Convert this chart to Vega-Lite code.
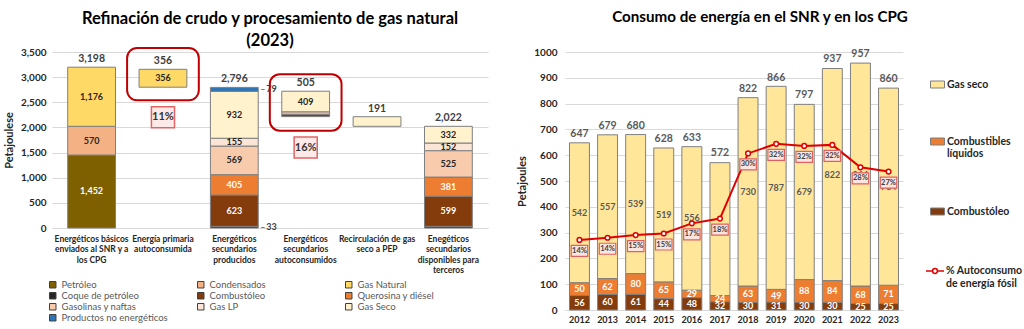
{
 "$schema": "https://vega.github.io/schema/vega-lite/v6.json",
 "background": "white",
 "padding": {"left": 3, "right": 4, "top": 9, "bottom": 2},
 "spacing": 28,
 "resolve": {"scale": {"color": "independent", "stroke": "independent"}, "legend": {"color": "independent", "stroke": "independent"}},
 "config": {
  "font": "Lato",
  "view": {"stroke": null},
  "axis": {"domain": false, "ticks": false, "gridColor": "#D9D9D9", "labelFontWeight": "bold", "labelColor": "#262626", "titleColor": "#262626", "titleFontWeight": "bold"},
  "title": {"color": "#000000", "fontWeight": "bold"}
 },
 "datasets": {
  "refi": [
   {"cat": "Energéticos básicos|enviados al SNR y a|los CPG", "prod": "Petróleo", "value": 1452, "ord": 0},
   {"cat": "Energéticos básicos|enviados al SNR y a|los CPG", "prod": "Condensados", "value": 570, "ord": 1},
   {"cat": "Energéticos básicos|enviados al SNR y a|los CPG", "prod": "Gas Natural", "value": 1176, "ord": 2},
   {"cat": "Energía primaria|autoconsumida", "prod": "base", "value": 2800, "ord": -1},
   {"cat": "Energía primaria|autoconsumida", "prod": "Gas Natural", "value": 356, "ord": 2},
   {"cat": "Energéticos|secundarios|producidos", "prod": "Coque de petróleo", "value": 33, "ord": 3},
   {"cat": "Energéticos|secundarios|producidos", "prod": "Combustóleo", "value": 623, "ord": 4},
   {"cat": "Energéticos|secundarios|producidos", "prod": "Querosina y diésel", "value": 405, "ord": 5},
   {"cat": "Energéticos|secundarios|producidos", "prod": "Gasolinas y naftas", "value": 569, "ord": 6},
   {"cat": "Energéticos|secundarios|producidos", "prod": "Gas LP", "value": 155, "ord": 7},
   {"cat": "Energéticos|secundarios|producidos", "prod": "Gas Seco", "value": 932, "ord": 8},
   {"cat": "Energéticos|secundarios|producidos", "prod": "Productos no energéticos", "value": 79, "ord": 9},
   {"cat": "Energéticos|secundarios|autoconsumidos", "prod": "base", "value": 2215, "ord": -1},
   {"cat": "Energéticos|secundarios|autoconsumidos", "prod": "Combustóleo", "value": 48, "ord": 4},
   {"cat": "Energéticos|secundarios|autoconsumidos", "prod": "Gasolinas y naftas", "value": 48, "ord": 6},
   {"cat": "Energéticos|secundarios|autoconsumidos", "prod": "Gas Seco", "value": 409, "ord": 8},
   {"cat": "Recirculación de gas|seco a PEP", "prod": "base", "value": 2022, "ord": -1},
   {"cat": "Recirculación de gas|seco a PEP", "prod": "Gas Seco", "value": 191, "ord": 8},
   {"cat": "Enegéticos|secundarios|disponibles para|terceros", "prod": "Coque de petróleo", "value": 33, "ord": 3},
   {"cat": "Enegéticos|secundarios|disponibles para|terceros", "prod": "Combustóleo", "value": 599, "ord": 4},
   {"cat": "Enegéticos|secundarios|disponibles para|terceros", "prod": "Querosina y diésel", "value": 381, "ord": 5},
   {"cat": "Enegéticos|secundarios|disponibles para|terceros", "prod": "Gasolinas y naftas", "value": 525, "ord": 6},
   {"cat": "Enegéticos|secundarios|disponibles para|terceros", "prod": "Gas LP", "value": 152, "ord": 7},
   {"cat": "Enegéticos|secundarios|disponibles para|terceros", "prod": "Gas Seco", "value": 332, "ord": 8}
  ],
  "notas": [
   {"cat": "Energía primaria|autoconsumida", "lo": 2540, "hi": 3580, "pct": 0.11, "at": 2200},
   {"cat": "Energéticos|secundarios|autoconsumidos", "lo": 1935, "hi": 3060, "pct": 0.16, "at": 1600}
  ],
  "consumo": [
   {"year": "2012", "tipo": "Combustóleo", "value": 56, "ord": 0}, {"year": "2012", "tipo": "Combustibles líquidos", "value": 50, "ord": 1}, {"year": "2012", "tipo": "Gas seco", "value": 542, "ord": 2},
   {"year": "2013", "tipo": "Combustóleo", "value": 60, "ord": 0}, {"year": "2013", "tipo": "Combustibles líquidos", "value": 62, "ord": 1}, {"year": "2013", "tipo": "Gas seco", "value": 557, "ord": 2},
   {"year": "2014", "tipo": "Combustóleo", "value": 61, "ord": 0}, {"year": "2014", "tipo": "Combustibles líquidos", "value": 80, "ord": 1}, {"year": "2014", "tipo": "Gas seco", "value": 539, "ord": 2},
   {"year": "2015", "tipo": "Combustóleo", "value": 44, "ord": 0}, {"year": "2015", "tipo": "Combustibles líquidos", "value": 65, "ord": 1}, {"year": "2015", "tipo": "Gas seco", "value": 519, "ord": 2},
   {"year": "2016", "tipo": "Combustóleo", "value": 48, "ord": 0}, {"year": "2016", "tipo": "Combustibles líquidos", "value": 29, "ord": 1}, {"year": "2016", "tipo": "Gas seco", "value": 556, "ord": 2},
   {"year": "2017", "tipo": "Combustóleo", "value": 32, "ord": 0}, {"year": "2017", "tipo": "Combustibles líquidos", "value": 24, "ord": 1}, {"year": "2017", "tipo": "Gas seco", "value": 515, "ord": 2},
   {"year": "2018", "tipo": "Combustóleo", "value": 30, "ord": 0}, {"year": "2018", "tipo": "Combustibles líquidos", "value": 63, "ord": 1}, {"year": "2018", "tipo": "Gas seco", "value": 730, "ord": 2},
   {"year": "2019", "tipo": "Combustóleo", "value": 31, "ord": 0}, {"year": "2019", "tipo": "Combustibles líquidos", "value": 49, "ord": 1}, {"year": "2019", "tipo": "Gas seco", "value": 787, "ord": 2},
   {"year": "2020", "tipo": "Combustóleo", "value": 30, "ord": 0}, {"year": "2020", "tipo": "Combustibles líquidos", "value": 88, "ord": 1}, {"year": "2020", "tipo": "Gas seco", "value": 679, "ord": 2},
   {"year": "2021", "tipo": "Combustóleo", "value": 30, "ord": 0}, {"year": "2021", "tipo": "Combustibles líquidos", "value": 84, "ord": 1}, {"year": "2021", "tipo": "Gas seco", "value": 822, "ord": 2},
   {"year": "2022", "tipo": "Combustóleo", "value": 25, "ord": 0}, {"year": "2022", "tipo": "Combustibles líquidos", "value": 68, "ord": 1}, {"year": "2022", "tipo": "Gas seco", "value": 864, "ord": 2},
   {"year": "2023", "tipo": "Combustóleo", "value": 25, "ord": 0}, {"year": "2023", "tipo": "Combustibles líquidos", "value": 71, "ord": 1}, {"year": "2023", "tipo": "Gas seco", "value": 764, "ord": 2}
  ],
  "anual": [
   {"year": "2012", "total": 647, "pct": 0.140},
   {"year": "2013", "total": 679, "pct": 0.144},
   {"year": "2014", "total": 680, "pct": 0.149},
   {"year": "2015", "total": 628, "pct": 0.152},
   {"year": "2016", "total": 633, "pct": 0.171},
   {"year": "2017", "total": 572, "pct": 0.180},
   {"year": "2018", "total": 822, "pct": 0.302},
   {"year": "2019", "total": 866, "pct": 0.320},
   {"year": "2020", "total": 797, "pct": 0.316},
   {"year": "2021", "total": 937, "pct": 0.318},
   {"year": "2022", "total": 957, "pct": 0.276},
   {"year": "2023", "total": 860, "pct": 0.268}
  ]
 },
 "hconcat": [
  {
   "width": 436,
   "height": 176,
   "title": {"text": ["Refinación de crudo y procesamiento de gas natural", "(2023)"], "fontSize": 16.5, "lineHeight": 22, "offset": -3},
   "encoding": {
    "x": {"field": "cat", "type": "nominal",
     "sort": ["Energéticos básicos|enviados al SNR y a|los CPG", "Energía primaria|autoconsumida", "Energéticos|secundarios|producidos", "Energéticos|secundarios|autoconsumidos", "Recirculación de gas|seco a PEP", "Enegéticos|secundarios|disponibles para|terceros"],
     "scale": {"paddingInner": 0.33, "paddingOuter": 0.22},
     "axis": {"title": null, "labelAngle": 0, "labelExpr": "split(datum.label, '|')", "labelFontSize": 8.5, "labelLineHeight": 10.5, "labelPadding": 6, "labelLimit": 200, "labelBaseline": "top", "domain": true, "domainColor": "#D9D9D9"}}
   },
   "layer": [
    {
     "data": {"name": "refi"},
     "transform": [
      {"stack": "value", "groupby": ["cat"], "sort": [{"field": "ord", "order": "ascending"}], "as": ["y0", "y1"]},
      {"filter": "datum.prod != 'base'"},
      {"calculate": "(datum.y0 + datum.y1) / 2", "as": "mid"}
     ],
     "layer": [
      {
       "mark": {"type": "bar", "stroke": "#7F7F7F", "strokeWidth": 1},
       "encoding": {
        "y": {"field": "y0", "type": "quantitative", "scale": {"domain": [0, 3500], "nice": false},
         "axis": {"title": "Petajoulese", "titleFontSize": 11, "format": ",.0f", "values": [0, 500, 1000, 1500, 2000, 2500, 3000, 3500], "labelFontSize": 10, "labelPadding": 6, "titlePadding": 6, "grid": true}},
        "y2": {"field": "y1"},
        "color": {"field": "prod", "type": "nominal",
         "scale": {"domain": ["Petróleo", "Condensados", "Gas Natural", "Coque de petróleo", "Combustóleo", "Querosina y diésel", "Gasolinas y naftas", "Gas LP", "Gas Seco", "Productos no energéticos"],
          "range": ["#7F6000", "#F4B183", "#FFD966", "#262626", "#843C0C", "#ED7D31", "#F8CBAD", "#FBE5D6", "#FFF2CC", "#2E75B6"]},
         "legend": {"title": null, "orient": "none", "direction": "horizontal", "legendX": -4, "legendY": 228, "columns": 3, "symbolType": "square", "symbolSize": 42, "labelFontSize": 9.5, "labelColor": "#595959", "rowPadding": 0, "columnPadding": 27, "gridAlign": "all", "symbolStrokeWidth": 1, "symbolStrokeColor": "#404040"}}
       }
      },
      {
       "transform": [{"filter": "datum.value >= 100 && datum.cat != 'Recirculación de gas|seco a PEP'"}],
       "mark": {"type": "text", "fontSize": 9, "fontWeight": "bold", "baseline": "middle"},
       "encoding": {
        "y": {"field": "mid", "type": "quantitative", "axis": {"title": "Petajoulese", "titleFontSize": 11, "format": ",.0f", "values": [0, 500, 1000, 1500, 2000, 2500, 3000, 3500], "labelFontSize": 10, "labelPadding": 6, "titlePadding": 6, "grid": true}},
        "text": {"field": "value", "type": "quantitative", "format": ","},
        "color": {"condition": {"test": "datum.prod == 'Petróleo' || datum.prod == 'Combustóleo' || datum.prod == 'Querosina y diésel'", "value": "#FFFFFF"}, "value": "#262626"}
       }
      },
      {
       "transform": [{"filter": "datum.value < 100 && datum.cat == 'Energéticos|secundarios|producidos'"}],
       "mark": {"type": "text", "fontSize": 9, "fontWeight": "bold", "baseline": "middle", "align": "left", "dx": 32, "color": "#404040"},
       "encoding": {
        "y": {"field": "mid", "type": "quantitative", "axis": {"title": "Petajoulese", "titleFontSize": 11, "format": ",.0f", "values": [0, 500, 1000, 1500, 2000, 2500, 3000, 3500], "labelFontSize": 10, "labelPadding": 6, "titlePadding": 6, "grid": true}},
        "text": {"field": "value", "type": "quantitative"}
       }
      },
      {
       "transform": [{"filter": "datum.value < 100 && datum.cat == 'Energéticos|secundarios|producidos'"}],
       "mark": {"type": "text", "fontSize": 9, "baseline": "middle", "align": "left", "dx": 26, "color": "#404040"},
       "encoding": {
        "y": {"field": "mid", "type": "quantitative", "axis": {"title": "Petajoulese", "titleFontSize": 11, "format": ",.0f", "values": [0, 500, 1000, 1500, 2000, 2500, 3000, 3500], "labelFontSize": 10, "labelPadding": 6, "titlePadding": 6, "grid": true}},
        "text": {"value": "–"}
       }
      },
      {
       "transform": [{"aggregate": [{"op": "sum", "field": "value", "as": "total"}, {"op": "max", "field": "y1", "as": "top"}], "groupby": ["cat"]}],
       "mark": {"type": "text", "fontSize": 10.5, "fontWeight": "bold", "dy": -8, "color": "#404040"},
       "encoding": {
        "y": {"field": "top", "type": "quantitative", "axis": {"title": "Petajoulese", "titleFontSize": 11, "format": ",.0f", "values": [0, 500, 1000, 1500, 2000, 2500, 3000, 3500], "labelFontSize": 10, "labelPadding": 6, "titlePadding": 6, "grid": true}},
        "text": {"field": "total", "type": "quantitative", "format": ","}
       }
      }
     ]
    },
    {
     "data": {"name": "notas"},
     "layer": [
      {
       "mark": {"type": "bar", "width": {"band": 1.5}, "fill": "transparent", "stroke": "#C00000", "strokeWidth": 2, "cornerRadius": 10},
       "encoding": {"y": {"field": "lo", "type": "quantitative", "axis": {"title": "Petajoulese", "titleFontSize": 11, "format": ",.0f", "values": [0, 500, 1000, 1500, 2000, 2500, 3000, 3500], "labelFontSize": 10, "labelPadding": 6, "titlePadding": 6, "grid": true}}, "y2": {"field": "hi"}}
      },
      {
       "mark": {"type": "point", "shape": "M-1.1,-1H1.1V1H-1.1Z", "size": 441, "filled": true, "fill": "#FDE9E7", "stroke": "#E06666", "strokeWidth": 1.5, "opacity": 1},
       "encoding": {"y": {"field": "at", "type": "quantitative", "axis": {"title": "Petajoulese", "titleFontSize": 11, "format": ",.0f", "values": [0, 500, 1000, 1500, 2000, 2500, 3000, 3500], "labelFontSize": 10, "labelPadding": 6, "titlePadding": 6, "grid": true}}}
      },
      {
       "mark": {"type": "text", "fontSize": 11, "fontWeight": "bold", "color": "#333333"},
       "encoding": {"y": {"field": "at", "type": "quantitative", "axis": {"title": "Petajoulese", "titleFontSize": 11, "format": ",.0f", "values": [0, 500, 1000, 1500, 2000, 2500, 3000, 3500], "labelFontSize": 10, "labelPadding": 6, "titlePadding": 6, "grid": true}}, "text": {"field": "pct", "type": "quantitative", "format": ".0%"}}
      }
     ]
    }
   ]
  },
  {
   "width": 338,
   "height": 258,
   "title": {"text": "Consumo de energía en el SNR y en los CPG", "fontSize": 15.2, "offset": 22, "dx": 26},
   "encoding": {
    "x": {"field": "year", "type": "ordinal", "scale": {"paddingInner": 0.29, "paddingOuter": 0.16},
     "axis": {"title": null, "labelAngle": 0, "labelFontSize": 9, "labelPadding": 5, "domain": true, "domainColor": "#D9D9D9"}}
   },
   "layer": [
    {
     "layer": [
      {
       "data": {"name": "consumo"},
       "transform": [
        {"stack": "value", "groupby": ["year"], "sort": [{"field": "ord", "order": "ascending"}], "as": ["y0", "y1"]},
        {"calculate": "(datum.y0 + datum.y1) / 2", "as": "mid"}
       ],
       "layer": [
        {
         "mark": {"type": "bar", "stroke": "#7F7F7F", "strokeWidth": 1},
         "encoding": {
          "y": {"field": "y0", "type": "quantitative", "scale": {"domain": [0, 1000], "nice": false},
           "axis": {"title": "Petajoules", "titleFontSize": 11, "format": "d", "values": [0, 100, 200, 300, 400, 500, 600, 700, 800, 900, 1000], "labelFontSize": 10, "labelPadding": 8, "titlePadding": 6, "grid": true}},
          "y2": {"field": "y1"},
          "color": {"field": "tipo", "type": "nominal",
           "scale": {"domain": ["Gas seco", "Combustibles líquidos", "Combustóleo"], "range": ["#FFE699", "#ED7D31", "#843C0C"]},
           "legend": {"title": null, "orient": "none", "legendX": 367, "legendY": 27, "symbolType": "M-1.4,-0.7H1.4V0.7H-1.4Z", "symbolSize": 100, "labelFontSize": 10.5, "labelFontWeight": "bold", "labelColor": "#262626", "rowPadding": 46, "symbolStrokeColor": "#7F7F7F", "symbolStrokeWidth": 1, "labelExpr": "datum.label == 'Combustibles líquidos' ? ['Combustibles', 'líquidos'] : datum.label"}}
         }
        },
        {
         "mark": {"type": "text", "fontSize": 9, "fontWeight": "bold", "baseline": "middle"},
         "encoding": {
          "y": {"field": "mid", "type": "quantitative", "axis": {"title": "Petajoules", "titleFontSize": 11, "format": "d", "values": [0, 100, 200, 300, 400, 500, 600, 700, 800, 900, 1000], "labelFontSize": 10, "labelPadding": 8, "titlePadding": 6, "grid": true}},
          "text": {"field": "value", "type": "quantitative"},
          "color": {"condition": {"test": "datum.tipo != 'Gas seco'", "value": "#FFFFFF"}, "value": "#595959"}
         }
        }
       ]
      },
      {
       "data": {"name": "anual"},
       "mark": {"type": "text", "fontSize": 10.5, "fontWeight": "bold", "dy": -9, "color": "#595959"},
       "encoding": {
        "y": {"field": "total", "type": "quantitative", "axis": {"title": "Petajoules", "titleFontSize": 11, "format": "d", "values": [0, 100, 200, 300, 400, 500, 600, 700, 800, 900, 1000], "labelFontSize": 10, "labelPadding": 8, "titlePadding": 6, "grid": true}},
        "text": {"field": "total", "type": "quantitative"}
       }
      }
     ]
    },
    {
     "data": {"name": "anual"},
     "layer": [
      {
       "mark": {"type": "line", "strokeWidth": 2},
       "encoding": {
        "y": {"field": "pct", "type": "quantitative", "scale": {"domain": [0.0087, 0.492], "nice": false, "zero": false}, "axis": null},
        "stroke": {"datum": "% Autoconsumo de energía fósil", "type": "nominal", "scale": {"range": ["#E00000"]},
         "legend": {"title": null, "orient": "none", "legendX": 363, "legendY": 212, "symbolType": "M-1.5,0H-0.4M0.4,0H1.5M0.4,0A0.4,0.4,0,1,1,-0.4,0A0.4,0.4,0,1,1,0.4,0", "symbolSize": 144, "symbolFillColor": "#FFFFFF", "symbolStrokeWidth": 1.5, "labelFontSize": 10.5, "labelFontWeight": "bold", "labelColor": "#262626", "labelExpr": "['% Autoconsumo', 'de energía fósil']"}}
       }
      },
      {
       "mark": {"type": "point", "filled": true, "fill": "#FFFFFF", "stroke": "#E00000", "strokeWidth": 1.5, "size": 22, "opacity": 1},
       "encoding": {"y": {"field": "pct", "type": "quantitative", "axis": null}}
      },
      {
       "mark": {"type": "point", "shape": "M-1.5,-1H1.5V1H-1.5Z", "size": 121, "filled": true, "fill": "#FCE4E0", "stroke": "#E06060", "strokeWidth": 1.2, "yOffset": 11, "opacity": 1},
       "encoding": {"y": {"field": "pct", "type": "quantitative", "axis": null}}
      },
      {
       "mark": {"type": "text", "fontSize": 7.5, "fontWeight": "bold", "color": "#404040", "yOffset": 11, "baseline": "middle"},
       "encoding": {"y": {"field": "pct", "type": "quantitative", "axis": null}, "text": {"field": "pct", "type": "quantitative", "format": ".0%"}}
      }
     ]
    }
   ],
   "resolve": {"scale": {"y": "independent"}}
  }
 ]
}
